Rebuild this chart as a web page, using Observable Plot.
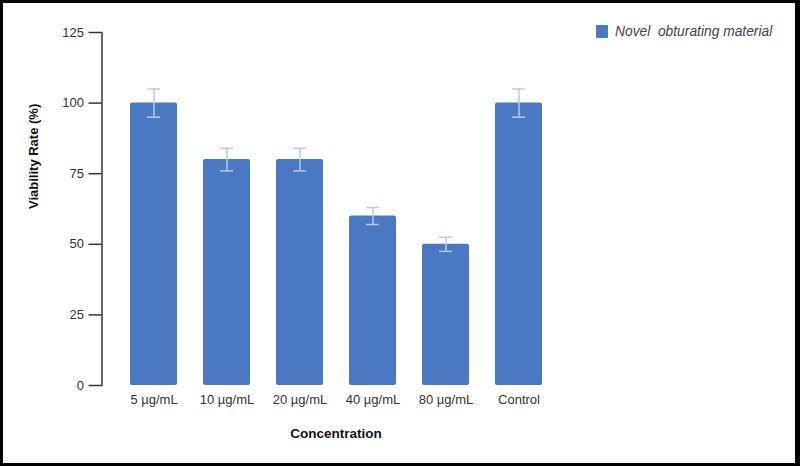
<!DOCTYPE html>
<html>
<head>
<meta charset="utf-8">
<script src="https://cdn.jsdelivr.net/npm/d3@7"></script>
<script src="https://cdn.jsdelivr.net/npm/@observablehq/plot@0.6"></script>
<style>
  html, body { margin: 0; padding: 0; background: #fff; }
  #wrap { position: relative; width: 800px; height: 466px; overflow: hidden; font-family: "Liberation Sans", Arial, sans-serif; }
  #frame { position: absolute; left: 0; top: 0; width: 800px; height: 466px; box-sizing: border-box;
           border-style: solid; border-color: #000; border-width: 3px 5px 3px 3px; pointer-events: none; }
  #legend { position: absolute; left: 596px; top: 24px; display: flex; align-items: center; font-size: 13.8px; font-style: italic; color: #444; }
  #legend .sw { width: 12px; height: 13px; background: #4a78c2; margin-right: 7px; border-radius: 1px; }
  #chart { position: absolute; left: 0; top: 0; }
</style>
</head>
<body>
<div id="wrap">
  <div id="chart"></div>
  <div id="legend"><span class="sw"></span><span id="legendText"></span></div>
  <div id="frame"></div>
</div>
<script>
const categories = ["5 µg/mL", "10 µg/mL", "20 µg/mL", "40 µg/mL", "80 µg/mL", "Control"];
const viability = [100, 80, 80, 60, 50, 100];
const errors = [5, 4, 4, 3, 2.5, 5];
const yTicks = [0, 25, 50, 75, 100, 125];
const seriesName = "Novel\u00a0 obturating material";

document.getElementById("legendText").textContent = seriesName;

const data = categories.map((c, i) => ({ cat: c, v: viability[i], e: errors[i] }));

const chart = Plot.plot({
  width: 800,
  height: 466,
  marginLeft: 101.5,
  marginRight: 230.5,
  marginTop: 32,
  marginBottom: 81,
  style: { fontFamily: "'Liberation Sans', Arial, sans-serif", fontSize: "13px", color: "#333", background: "transparent" },
  x: { domain: categories, padding: 0.36, label: null },
  y: { domain: [0, 125], label: null },
  marks: [
    Plot.barY(data, { x: "cat", y: "v", fill: "#4a78c2", rx: 2 }),
    Plot.ruleX(data, { x: "cat", y1: d => d.v - d.e, y2: d => d.v + d.e, stroke: "#b5cbeb", strokeWidth: 1.5 }),
    Plot.tickY(data, { x: "cat", y: d => d.v + d.e, stroke: "#b5cbeb", strokeWidth: 1.5, inset: 17 }),
    Plot.tickY(data, { x: "cat", y: d => d.v - d.e, stroke: "#b5cbeb", strokeWidth: 1.5, inset: 17 }),
    Plot.axisY({ ticks: yTicks, tickSize: 13, tickPadding: 5, stroke: "#333", strokeWidth: 1.5, fill: "#333", fontSize: 13, label: null }),
    Plot.frame({ anchor: "left", stroke: "#333", strokeWidth: 1.5 }),
    Plot.axisX({ tickSize: 0, tickPadding: 9, fill: "#333", fontSize: 13, label: null }),
    Plot.text(["Concentration"], { frameAnchor: "bottom", dy: 52, fontWeight: "bold", fontSize: 13.5, fill: "#111" }),
    Plot.text(["Viability Rate (%)"], { frameAnchor: "left", dx: -68, rotate: -90, fontWeight: "bold", fontSize: 13, fill: "#111" })
  ]
});
document.getElementById("chart").appendChild(chart);
</script>
</body>
</html>
